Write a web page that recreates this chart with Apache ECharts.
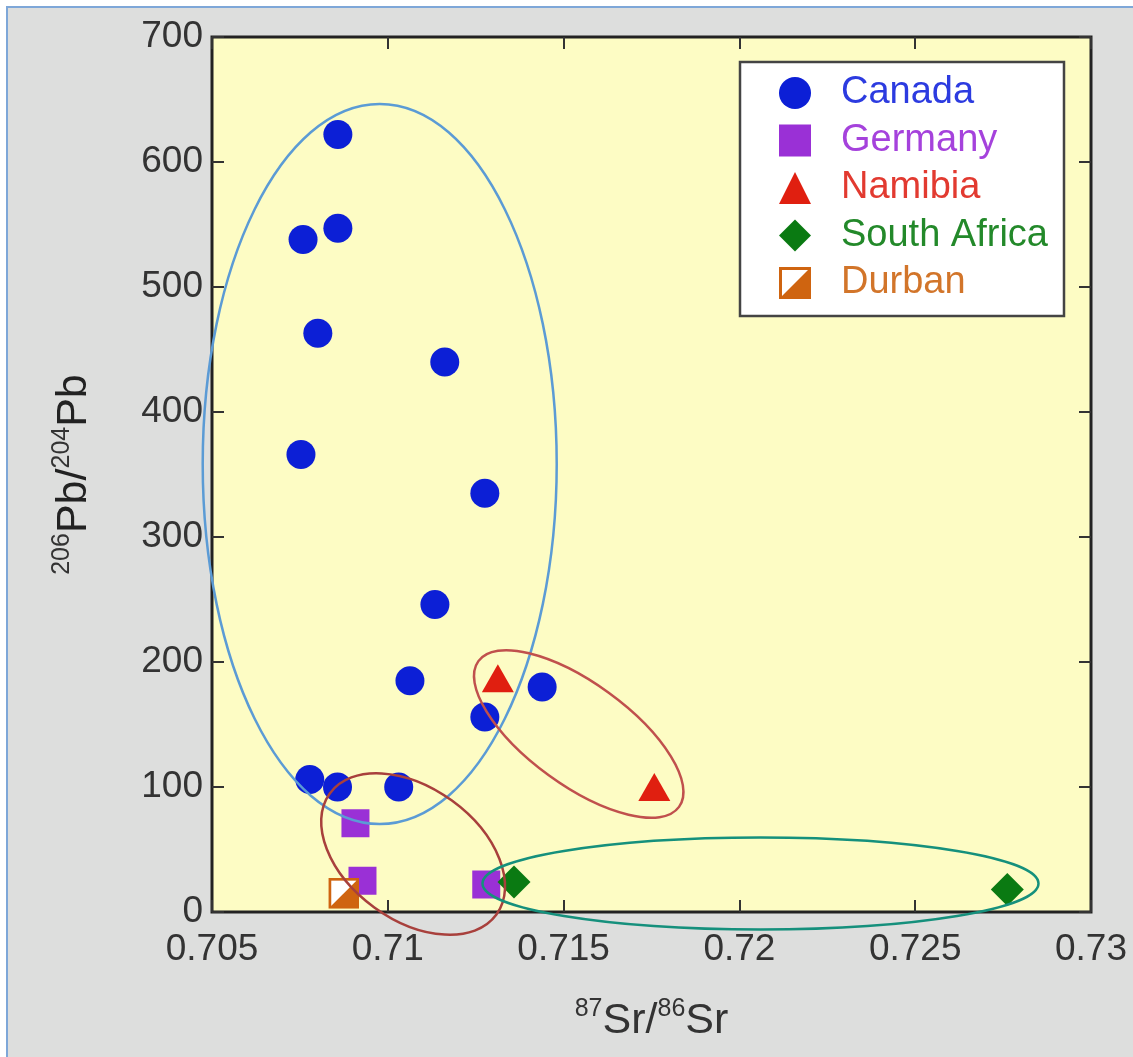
<!DOCTYPE html>
<html><head><meta charset="utf-8">
<script src="https://cdn.jsdelivr.net/npm/echarts@6/dist/echarts.min.js"></script>
<style>
html,body{margin:0;padding:0;background:#fff;overflow:hidden;}
#frame{position:absolute;left:6px;top:6px;width:1127px;height:1051px;background:#dddedd;border-left:2px solid #7ea7d8;border-top:2px solid #7ea7d8;}
#chart{position:absolute;left:0;top:0;width:1133px;height:1057px;}
</style></head><body>
<div id="frame"></div><div id="chart"></div>
<script>
// ---- data ----
const canadaSr = [0.70858, 0.70759, 0.70858, 0.70801, 0.71162, 0.70753, 0.71276, 0.71134, 0.71063, 0.71439, 0.71276, 0.70778, 0.70857, 0.71031];
const canadaPb = [622, 538, 547, 463, 440, 366, 335, 246, 185, 180, 156, 106, 100, 100];
const germanySr = [0.70908, 0.70928, 0.71280];
const germanyPb = [71, 25, 22];
const namibiaSr = [0.71313, 0.71758];
const namibiaPb = [187, 100];
const southAfricaSr = [0.71359, 0.72762];
const southAfricaPb = [24, 18];
const durbanSr = [0.70875];
const durbanPb = [15];
const seriesNames = ['Canada', 'Germany', 'Namibia', 'South Africa', 'Durban'];
const xTickMin = 0.705, xTickMax = 0.73, xTickStep = 0.005;
const yTickMin = 0, yTickMax = 700, yTickStep = 100;

// ---- annotation ellipses (group outlines) ----
const groupOutlines = [
  {center: [0.70977, 358.4], rx: 177, ry: 360, angle: 0,  color: '#5b9bd5'},
  {center: [0.71072, 46.4],  rx: 103, ry: 66,  angle: 36, color: '#a8403c'},
  {center: [0.71543, 142.4], rx: 124, ry: 51,  angle: 36, color: '#c0504d'},
  {center: [0.72060, 22.8],  rx: 278, ry: 46,  angle: 0,  color: '#15907c'}
];

const colors = {
  Canada: '#0c1fd6', Germany: '#9a30d6', Namibia: '#e01f10', 'South Africa': '#0a7a12', Durban: '#cf6410'
};
const textColors = {
  Canada: '#2c3be0', Germany: '#a542dc', Namibia: '#e23a30', 'South Africa': '#23892a', Durban: '#d2752a'
};
const FONT = '"Liberation Sans", Arial, Helvetica, sans-serif';

const durbanSvg = "<svg xmlns='http://www.w3.org/2000/svg' width='32' height='32'>" +
  "<rect x='1.5' y='1.5' width='29' height='29' fill='#ffffff' stroke='" + colors.Durban + "' stroke-width='3'/>" +
  "<polygon points='30.5,1.5 30.5,30.5 1.5,30.5' fill='" + colors.Durban + "'/></svg>";
const durbanSymbol = 'image://data:image/svg+xml;charset=utf-8,' + encodeURIComponent(durbanSvg);

function pairs(xs, ys) { return xs.map((x, i) => [x, ys[i]]); }

const chart = echarts.init(document.getElementById('chart'), null, {renderer: 'canvas'});

function tick() { return {show: true, inside: true, length: 12, lineStyle: {color: '#333', width: 2}}; }
const xFmt = v => String(+v.toFixed(3));

chart.setOption({
  backgroundColor: 'transparent',
  animation: false,
  grid: {left: 212, right: 42, top: 37, bottom: 145, show: true,
         backgroundColor: '#fdfcc4', borderColor: '#222', borderWidth: 3},
  legend: {
    orient: 'vertical', left: 740, top: 62,
    backgroundColor: '#ffffff', borderColor: '#444', borderWidth: 2.5,
    padding: [12, 16, 14, 39],
    itemWidth: 32, itemHeight: 32, itemGap: 9.5,
    textStyle: {fontSize: 38, fontFamily: FONT, lineHeight: 38, padding: [0, 0, 0, 25]},
    data: seriesNames.map(n => ({name: n, textStyle: {color: textColors[n]}}))
  },
  xAxis: [{
    type: 'value', min: xTickMin, max: xTickMax, interval: xTickStep,
    position: 'bottom',
    axisLine: {show: false, onZero: false}, splitLine: {show: false}, axisTick: tick(),
    axisLabel: {fontSize: 37, color: '#333', fontFamily: FONT, margin: 19, formatter: xFmt, showMinLabel: true, showMaxLabel: true},
    name: '{s|87}{m|Sr/}{s|86}{m|Sr}', nameLocation: 'middle', nameGap: 85,
    nameTextStyle: {rich: {
      m: {fontSize: 43, color: '#333', fontFamily: FONT, lineHeight: 48},
      s: {fontSize: 25, color: '#333', fontFamily: FONT, lineHeight: 48, verticalAlign: 'top'}
    }}
  }, {
    type: 'value', min: xTickMin, max: xTickMax, interval: xTickStep,
    position: 'top',
    axisLine: {show: false, onZero: false}, splitLine: {show: false}, axisTick: tick(),
    axisLabel: {show: false}
  }],
  yAxis: [{
    type: 'value', min: yTickMin, max: yTickMax, interval: yTickStep,
    position: 'left',
    axisLine: {show: false, onZero: false}, splitLine: {show: false}, axisTick: tick(),
    axisLabel: {fontSize: 37, color: '#333', fontFamily: FONT, margin: 9},
    name: '{s|206}{m|Pb/}{s|204}{m|Pb}', nameLocation: 'middle', nameGap: 114, nameRotate: 90,
    nameTextStyle: {rich: {
      m: {fontSize: 43, color: '#222', fontFamily: FONT, lineHeight: 48},
      s: {fontSize: 25, color: '#333', fontFamily: FONT, lineHeight: 48, verticalAlign: 'top'}
    }}
  }, {
    type: 'value', min: yTickMin, max: yTickMax, interval: yTickStep,
    position: 'right',
    axisLine: {show: false, onZero: false}, splitLine: {show: false}, axisTick: tick(),
    axisLabel: {show: false}
  }],
  series: [
    {name: 'Canada', type: 'scatter', symbol: 'circle', symbolSize: 29,
     itemStyle: {color: colors.Canada, opacity: 1}, data: pairs(canadaSr, canadaPb), z: 3},
    {name: 'Germany', type: 'scatter', symbol: 'rect', symbolSize: 28,
     itemStyle: {color: colors.Germany, opacity: 1}, data: pairs(germanySr, germanyPb), z: 3},
    {name: 'Namibia', type: 'scatter', symbol: 'triangle', symbolSize: [32, 28],
     itemStyle: {color: colors.Namibia, opacity: 1}, data: pairs(namibiaSr, namibiaPb), z: 3},
    {name: 'South Africa', type: 'scatter', symbol: 'diamond', symbolSize: 33,
     itemStyle: {color: colors['South Africa'], opacity: 1}, data: pairs(southAfricaSr, southAfricaPb), z: 3},
    {name: 'Durban', type: 'scatter', symbol: durbanSymbol, symbolSize: 31,
     itemStyle: {color: colors.Durban, opacity: 1}, data: pairs(durbanSr, durbanPb), z: 3},
    {name: 'outlines', type: 'custom', silent: true, z: 5, clip: false,
     data: groupOutlines.map((g, i) => [g.center[0], g.center[1], i]),
     encode: {x: 0, y: 1},
     renderItem: function (params, api) {
       const g = groupOutlines[api.value(2)];
       const p = api.coord([api.value(0), api.value(1)]);
       return {
         type: 'ellipse', x: p[0], y: p[1], rotation: -g.angle * Math.PI / 180,
         shape: {cx: 0, cy: 0, rx: g.rx, ry: g.ry},
         style: {fill: 'none', stroke: g.color, lineWidth: 2.5}
       };
     }}
  ]
});
</script>
</body></html>
